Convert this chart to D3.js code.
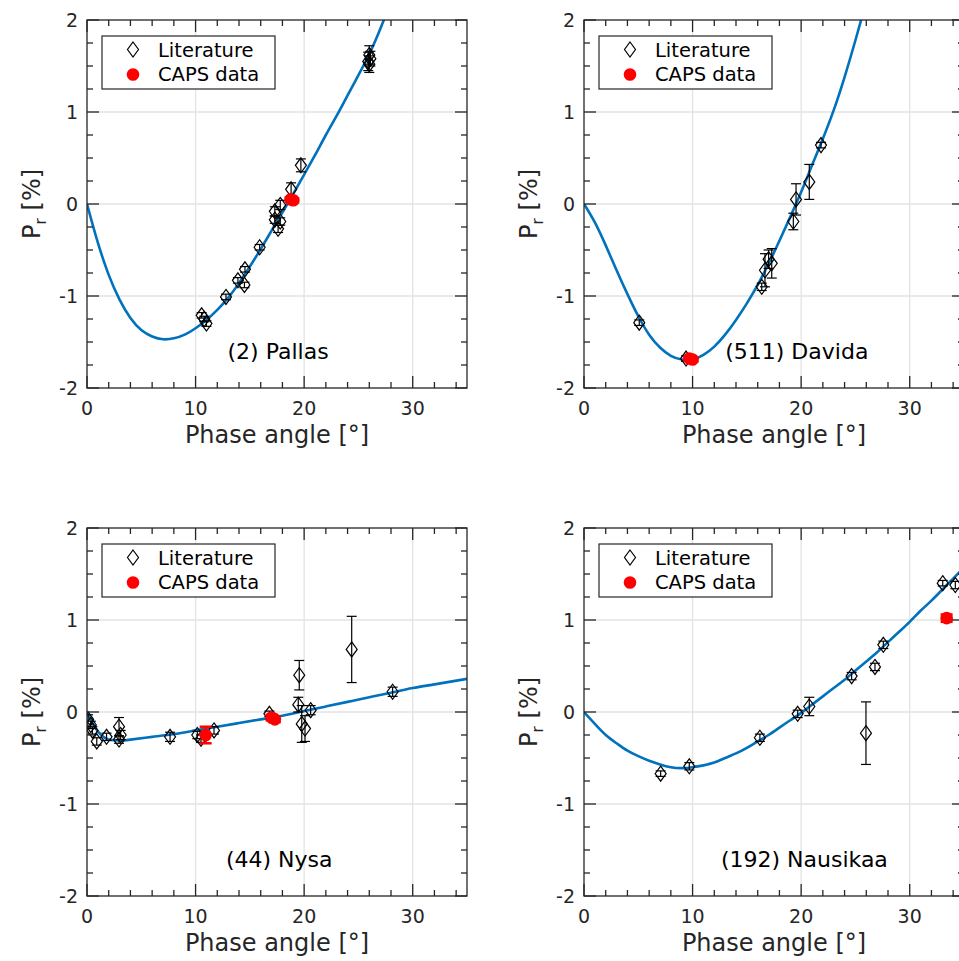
<!DOCTYPE html>
<html>
<head>
<meta charset="utf-8">
<script src="https://cdn.jsdelivr.net/npm/d3@7"></script>
<style>
  body { margin: 0; background: #fff; overflow: hidden; }
  svg { display: block; font-family: "DejaVu Sans", sans-serif; }
</style>
</head>
<body>
<svg id="chart" width="959" height="961"></svg>
<script>
// literature points: [phase angle, Pr, error]
const pallasLit = [
  [10.56, -1.21, 0.03], [10.8, -1.25, 0.03], [11.0, -1.30, 0.03], [12.8, -1.01, 0.03],
  [13.9, -0.83, 0.03], [14.5, -0.88, 0.03], [14.55, -0.71, 0.03], [15.9, -0.47, 0.03],
  [17.3, -0.17, 0.04], [17.3, -0.08, 0.05], [17.6, -0.27, 0.04], [17.8, -0.19, 0.04],
  [17.8, -0.01, 0.05], [18.8, 0.16, 0.07], [19.7, 0.42, 0.07],
  [25.9, 1.55, 0.10], [26.0, 1.62, 0.10], [26.1, 1.58, 0.08], [26.0, 1.52, 0.09]
];
const pallasCaps = [[18.75, 0.05, 0.02], [19.0, 0.04, 0.02]];
const pallasFit = [
  [0, 0], [1, -0.42], [2, -0.77], [3, -1.04], [4, -1.24], [5, -1.37], [6, -1.44], [7, -1.47],
  [8, -1.46], [9, -1.42], [10, -1.35], [11, -1.26], [12, -1.15], [13, -1.02], [14, -0.86],
  [15, -0.68], [16, -0.49], [17, -0.29], [18, -0.09], [19, 0.11], [20, 0.32], [21, 0.53],
  [22, 0.75], [23, 0.96], [24, 1.18], [25, 1.40], [26, 1.63], [27, 1.90], [28, 2.2]
];

const davidaLit = [
  [5.09, -1.29, 0.03], [9.4, -1.68, 0.03], [16.37, -0.90, 0.04], [16.67, -0.72, 0.18],
  [17.0, -0.60, 0.10], [17.29, -0.645, 0.16], [19.28, -0.19, 0.09], [19.53, 0.05, 0.17],
  [20.75, 0.24, 0.19], [21.83, 0.64, 0.03]
];
const davidaCaps = [[9.7, -1.68, 0.02], [10.0, -1.69, 0.02]];
const davidaFit = [
  [0, 0], [1, -0.2], [2, -0.45], [3, -0.72], [4, -0.98], [5, -1.22], [6, -1.42], [7, -1.56],
  [8, -1.65], [9, -1.69], [10, -1.69], [11, -1.64], [12, -1.55], [13, -1.42], [14, -1.26],
  [15, -1.08], [16, -0.88], [17, -0.65], [18, -0.40], [19, -0.14], [20, 0.13], [21, 0.42],
  [22, 0.71], [23, 1.02], [24, 1.38], [25, 1.78], [26, 2.2]
];

const nysaLit = [
  [0.1, -0.08, 0.05], [0.35, -0.14, 0.04], [0.5, -0.20, 0.04], [0.9, -0.32, 0.04],
  [1.8, -0.27, 0.04], [2.95, -0.16, 0.10], [3.1, -0.25, 0.05], [2.95, -0.30, 0.04],
  [7.65, -0.27, 0.05], [10.16, -0.25, 0.04], [10.5, -0.29, 0.04], [11.7, -0.20, 0.04],
  [16.8, -0.02, 0.03], [19.46, 0.08, 0.08], [19.55, 0.40, 0.16], [19.78, -0.13, 0.20],
  [20.08, -0.18, 0.14], [20.6, 0.02, 0.05], [24.38, 0.68, 0.36], [28.15, 0.22, 0.05]
];
const nysaCaps = [[10.93, -0.25, 0.09], [17.0, -0.06, 0.03], [17.3, -0.08, 0.03]];
const nysaFit = [
  [0, 0], [0.5, -0.12], [1, -0.21], [1.5, -0.27], [2, -0.30], [3, -0.31], [4, -0.30],
  [6, -0.27], [8, -0.24], [10, -0.20], [12, -0.16], [14, -0.12], [16, -0.08], [18, -0.04],
  [20, 0.01], [22, 0.06], [24, 0.11], [26, 0.16], [28, 0.21], [30, 0.26], [32, 0.30], [35, 0.36]
];

const nausikaaLit = [
  [7.06, -0.67, 0.03], [9.7, -0.59, 0.04], [16.2, -0.28, 0.04], [19.68, -0.02, 0.04],
  [20.75, 0.06, 0.10], [24.65, 0.39, 0.04], [25.97, -0.23, 0.34], [26.8, 0.49, 0.04],
  [27.57, 0.73, 0.04], [33.04, 1.40, 0.03], [34.2, 1.38, 0.04]
];
const nausikaaCaps = [[33.4, 1.02, 0.04]];
const nausikaaFit = [
  [0, 0], [1, -0.13], [2, -0.25], [3, -0.34], [4, -0.42], [5, -0.48], [6, -0.53], [7, -0.57],
  [8, -0.60], [9, -0.61], [10, -0.60], [11, -0.58], [12, -0.55], [13, -0.50], [14, -0.45],
  [15, -0.39], [16, -0.32], [17, -0.25], [18, -0.17], [19, -0.09], [20, -0.01], [21, 0.08],
  [22, 0.17], [23, 0.26], [24, 0.35], [25, 0.45], [26, 0.55], [27, 0.65], [28, 0.76],
  [29, 0.87], [30, 0.98], [31, 1.10], [32, 1.21], [33, 1.33], [34, 1.45], [35, 1.57]
];

const xTicks = [0, 10, 20, 30];
const yTicks = [-2, -1, 0, 1, 2];
const legendLabels = ["Literature", "CAPS data"];

const panels = [
  { name: "(2) Pallas", left: 87, top: 20, lit: pallasLit, caps: pallasCaps, fit: pallasFit, lx: 17.6 },
  { name: "(511) Davida", left: 584, top: 20, lit: davidaLit, caps: davidaCaps, fit: davidaFit, lx: 19.6 },
  { name: "(44) Nysa", left: 87, top: 528, lit: nysaLit, caps: nysaCaps, fit: nysaFit, lx: 17.7 },
  { name: "(192) Nausikaa", left: 584, top: 528, lit: nausikaaLit, caps: nausikaaCaps, fit: nausikaaFit, lx: 20.3 }
];

const plotW = 380, plotH = 368;
const axisColor = "#262626";
const blue = "#0072BD";
const svg = d3.select("#chart");

panels.forEach((p, i) => {
  const x = d3.scaleLinear().domain([0, 35]).range([0, plotW]);
  const y = d3.scaleLinear().domain([-2, 2]).range([plotH, 0]);

  const g = svg.append("g").attr("transform", `translate(${p.left},${p.top})`);

  g.append("clipPath").attr("id", "clip" + i)
    .append("rect").attr("width", plotW).attr("height", plotH);

  // grid
  g.append("g").selectAll("line.gx").data([10, 20, 30]).join("line")
    .attr("x1", d => x(d)).attr("x2", d => x(d)).attr("y1", 0).attr("y2", plotH)
    .attr("stroke", "#e3e3e3").attr("stroke-width", 1.3);
  g.append("g").selectAll("line.gy").data([-1, 0, 1]).join("line")
    .attr("y1", d => y(d)).attr("y2", d => y(d)).attr("x1", 0).attr("x2", plotW)
    .attr("stroke", "#e3e3e3").attr("stroke-width", 1.3);

  const plot = g.append("g").attr("clip-path", `url(#clip${i})`);

  // fit curve
  plot.append("path").datum(p.fit)
    .attr("fill", "none").attr("stroke", blue).attr("stroke-width", 2.6)
    .attr("d", d3.line().x(d => x(d[0])).y(d => y(d[1])).curve(d3.curveNatural));

  // literature error bars + diamonds
  const lit = plot.append("g");
  p.lit.forEach(d => {
    const cx = x(d[0]), lo = y(d[1] - d[2]), hi = y(d[1] + d[2]);
    lit.append("line").attr("x1", cx).attr("x2", cx).attr("y1", lo).attr("y2", hi)
      .attr("stroke", "#000").attr("stroke-width", 1.2);
    [lo, hi].forEach(v => lit.append("line").attr("x1", cx - 5).attr("x2", cx + 5)
      .attr("y1", v).attr("y2", v).attr("stroke", "#000").attr("stroke-width", 1.2));
  });
  lit.selectAll("path.dia").data(p.lit).join("path")
    .attr("d", d => `M${x(d[0])},${y(d[1]) - 7.5}l5.5,7.5l-5.5,7.5l-5.5,-7.5z`)
    .attr("fill", "none").attr("stroke", "#000").attr("stroke-width", 1.2);

  // CAPS data
  const caps = plot.append("g");
  p.caps.forEach(d => {
    const cx = x(d[0]), lo = y(d[1] - d[2]), hi = y(d[1] + d[2]);
    caps.append("line").attr("x1", cx).attr("x2", cx).attr("y1", lo).attr("y2", hi)
      .attr("stroke", "red").attr("stroke-width", 2.5);
    [lo, hi].forEach(v => caps.append("line").attr("x1", cx - 6).attr("x2", cx + 6)
      .attr("y1", v).attr("y2", v).attr("stroke", "red").attr("stroke-width", 2.5));
  });
  caps.selectAll("circle").data(p.caps).join("circle")
    .attr("cx", d => x(d[0])).attr("cy", d => y(d[1])).attr("r", 6.3).attr("fill", "red");

  // axes box with inward ticks
  const box = g.append("g").attr("stroke", axisColor).attr("stroke-width", 1.3);
  box.append("rect").attr("width", plotW).attr("height", plotH).attr("fill", "none");
  const xMinor = d3.range(0, 35.01, 2).filter(v => v % 10 !== 0);
  const yMinor = d3.range(-2, 2.01, 0.25).filter(v => !Number.isInteger(v));
  [[xTicks, 12], [xMinor, 6]].forEach(([vals, len]) => {
    vals.forEach(v => {
      box.append("line").attr("x1", x(v)).attr("x2", x(v)).attr("y1", plotH).attr("y2", plotH - len);
      box.append("line").attr("x1", x(v)).attr("x2", x(v)).attr("y1", 0).attr("y2", len);
    });
  });
  [[yTicks, 12], [yMinor, 6]].forEach(([vals, len]) => {
    vals.forEach(v => {
      box.append("line").attr("y1", y(v)).attr("y2", y(v)).attr("x1", 0).attr("x2", len);
      box.append("line").attr("y1", y(v)).attr("y2", y(v)).attr("x1", plotW).attr("x2", plotW - len);
    });
  });

  // tick labels
  g.append("g").selectAll("text").data(xTicks).join("text")
    .attr("x", d => x(d)).attr("y", plotH + 27).attr("text-anchor", "middle")
    .attr("font-size", 19).attr("fill", axisColor).text(d => d);
  g.append("g").selectAll("text").data(yTicks).join("text")
    .attr("x", -9).attr("y", d => y(d)).attr("dy", "0.36em").attr("text-anchor", "end")
    .attr("font-size", 19).attr("fill", axisColor).text(d => String(d));

  // axis labels
  g.append("text").attr("x", plotW / 2).attr("y", plotH + 55).attr("text-anchor", "middle")
    .attr("font-size", 24).attr("fill", axisColor).text("Phase angle [°]");
  const yl = g.append("text").attr("transform", `translate(-47,${plotH / 2}) rotate(-90)`)
    .attr("text-anchor", "middle").attr("font-size", 24).attr("fill", axisColor);
  yl.append("tspan").text("P");
  yl.append("tspan").attr("font-size", 16).attr("dy", 6).text("r");
  yl.append("tspan").attr("dy", -6).text(" [%]");

  // asteroid name
  g.append("text").attr("x", x(p.lx)).attr("y", y(-1.68)).attr("text-anchor", "middle")
    .attr("font-size", 22).attr("fill", "#000").text(p.name);

  // legend
  const lg = g.append("g").attr("transform", "translate(15,16)");
  lg.append("rect").attr("width", 173).attr("height", 53)
    .attr("fill", "#fff").attr("stroke", axisColor).attr("stroke-width", 1.2);
  lg.append("path").attr("d", "M31,6l5.5,7.5l-5.5,7.5l-5.5,-7.5z")
    .attr("fill", "none").attr("stroke", "#000").attr("stroke-width", 1.2);
  lg.append("circle").attr("cx", 31).attr("cy", 38.5).attr("r", 6.3).attr("fill", "red");
  lg.selectAll("text").data(legendLabels).join("text")
    .attr("x", 56).attr("y", (d, k) => 21 + k * 24)
    .attr("font-size", 19.5).attr("fill", "#000").text(d => d);
});
</script>
</body>
</html>
